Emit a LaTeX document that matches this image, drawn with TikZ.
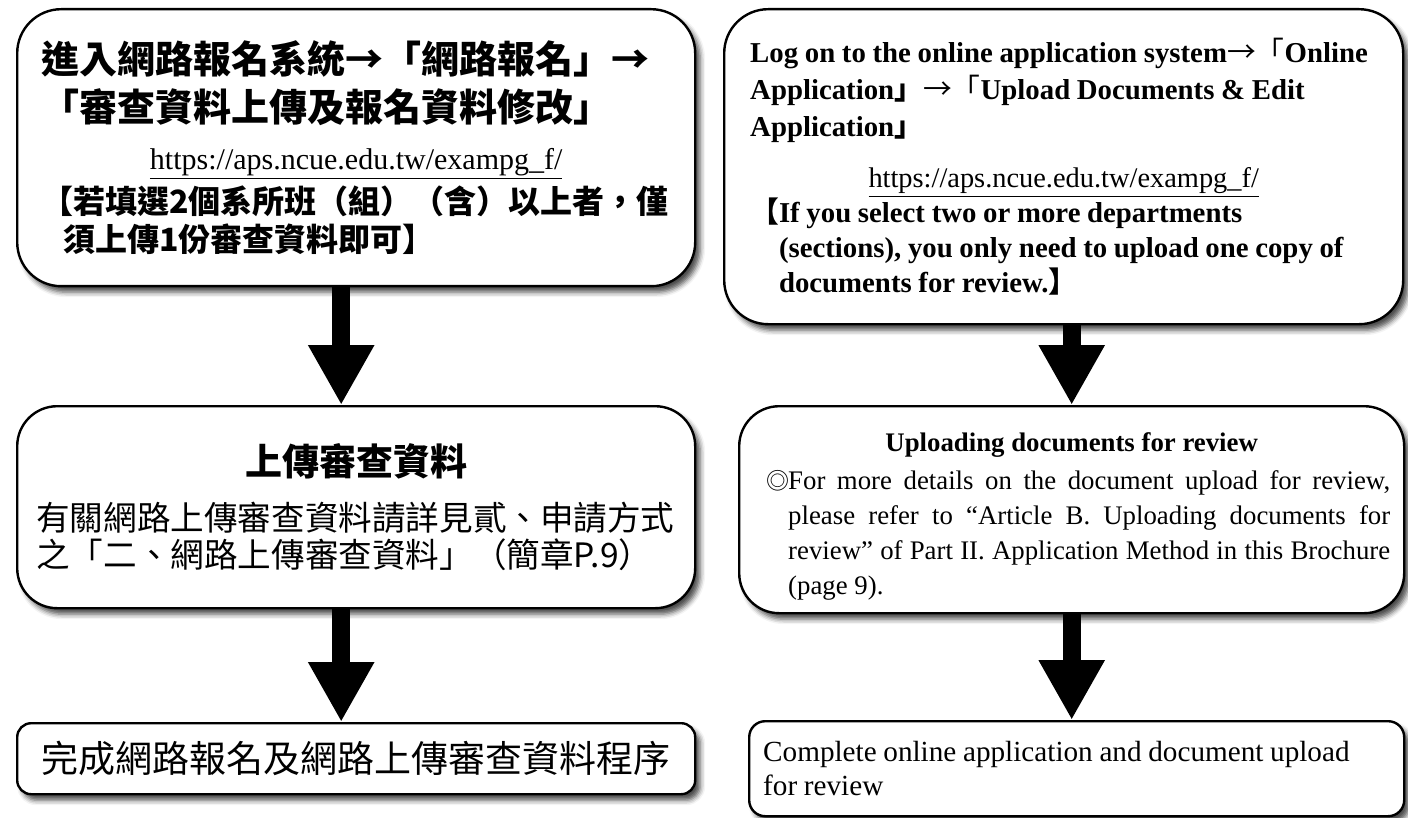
\documentclass[tikz,border=0pt]{standalone}
\usepackage{fontspec}
\setmainfont{Liberation Serif}
\newfontfamily\cjk{Noto Sans CJK TC}
\usetikzlibrary{positioning,arrows.meta,shadows.blur}

\begin{document}
\begin{tikzpicture}[x=0.5pt,y=-0.5pt,>={Triangle[length=30pt,width=31pt]}]
  \tikzstyle{flowbox}=[draw, line width=1.2pt, fill=white, anchor=north west, inner ysep=0pt,
    blur shadow={shadow xshift=2.5pt, shadow yshift=-3pt, shadow blur radius=2.5pt, shadow opacity=70}]
  \tikzstyle{bigbox}=[flowbox, rounded corners=22pt]
  \tikzstyle{lowbox}=[flowbox, rounded corners=7pt]
  \tikzstyle{fat}=[->, line width=9pt]

  \useasboundingbox (0,0) rectangle (1408,818);

  % left column
  \node[bigbox, minimum width=339pt, minimum height=138.5pt, text width=315pt, inner xsep=12pt, align=left] (l1) at (16,8)
    {\cjk\bfseries\fontsize{19}{24}\selectfont
     進入網路報名系統→「網路報名」→\\
     「審查資料上傳及報名資料修改」\\
     {\centering\mdseries\rmfamily\fontsize{15}{24}\selectfont\underline{https://aps.ncue.edu.tw/exampg\_f/}\par}
     \fontsize{16}{22}\selectfont
     【若填選2個系所班（組）（含）以上者，僅\\
     \fontsize{16}{19}\selectfont\hspace*{11pt}須上傳1份審查資料即可】\par};
  \node[bigbox, rounded corners=20pt, minimum width=339pt, minimum height=101pt, text width=320pt, inner xsep=9.5pt, align=left] (l2) at (16,405)
    {\cjk{\centering\bfseries\fontsize{18.5}{22}\selectfont 上傳審查資料\par}
     \vspace{9pt}
     \fontsize{16.8}{18.5}\selectfont
     有關網路上傳審查資料請詳見貳、申請方式\\
     之「二、網路上傳審查資料」（簡章P.9）\par};
  \node[lowbox, minimum width=339pt, minimum height=35.5pt, text width=320pt, inner xsep=9.5pt, align=center] (l3) at (16,722)
    {\cjk\fontsize{18.5}{22}\selectfont 完成網路報名及網路上傳審查資料程序\par};

  % right column
  \node[bigbox, minimum width=339.5pt, minimum height=157.5pt, text width=313.5pt, inner xsep=13pt, align=left] (r1) at (723,8)
    {\bfseries\fontsize{14.4}{18.5}\selectfont
     Log on to the online application system{\cjk\mdseries →「}Online\\
     Application{\cjk 」\mdseries→「}Upload Documents \& Edit\\
     Application{\cjk 」}\par
     \vspace{7pt}
     {\centering\mdseries\fontsize{14.2}{18.5}\selectfont\underline{https://aps.ncue.edu.tw/exampg\_f/}\par}
     \fontsize{14.4}{17.5}\selectfont
     \hangindent=1em\hangafter=1{\cjk 【}If you select two or more departments\newline
     (sections), you only need to upload one copy of\newline
     documents for review.{\cjk 】}\par};
  \node[bigbox, rounded corners=20pt, minimum width=332.5pt, minimum height=103.5pt, text width=317pt, inner xsep=7.75pt, align=justify] (r2) at (738,405)
    {{\centering\bfseries\fontsize{13.4}{17.5}\selectfont\rule{0pt}{16.5pt}Uploading documents for review\par}
     \vspace{1.5pt}
     \fontsize{13.4}{17.5}\selectfont
     \noindent\hspace*{5.75pt}\makebox[11pt][l]{\cjk\fontsize{11.5}{10}\selectfont ◎}\parbox[t]{301pt}{\fontsize{13.4}{17.5}\selectfont
       For more details on the document upload for review,\linebreak
       please refer to “Article B. Uploading documents for\linebreak
       review" of Part II. Application Method in this Brochure\linebreak
       (page 9).\par}\par};
  \node[lowbox, rounded corners=8pt, minimum width=327.5pt, minimum height=47.5pt, text width=313.5pt, inner xsep=7pt, align=left] (r3) at (748,720)
    {\fontsize{14.6}{17}\selectfont
     Complete online application and document upload\\
     for review\par};

  % arrows
  \draw[fat] ([xshift=-7.5pt]l1.south) -- ([xshift=-7.5pt]l2.north);
  \draw[fat] ([xshift=-7.5pt]l2.south) -- ([xshift=-7.5pt]l3.north);
  \draw[fat] (r1.south -| r2.north) -- (r2.north);
  \draw[fat] (r2.south) -- (r3.north -| r2.south);
\end{tikzpicture}
\end{document}
